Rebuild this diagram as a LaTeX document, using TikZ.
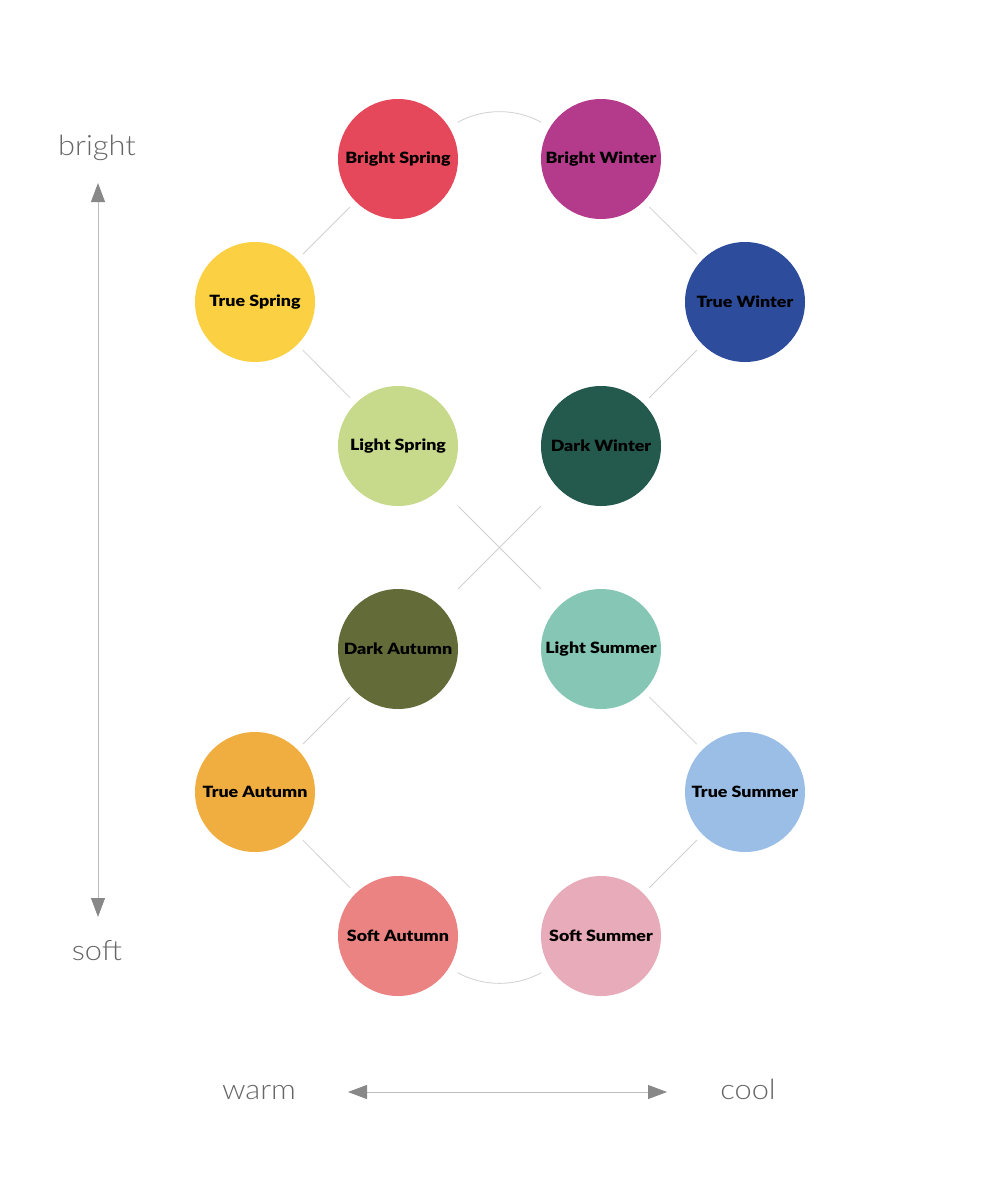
\documentclass[tikz,border=0pt]{standalone}
\usepackage{fontspec}
\setmainfont{Lato}
\newfontfamily\lblfont{Lato Black}[FakeStretch=1.15]
\newfontfamily\axfont{Lato Light}[FakeStretch=1.1]
\usetikzlibrary{arrows.meta}
\definecolor{cBS}{HTML}{E5485A}
\definecolor{cBW}{HTML}{B43A8C}
\definecolor{cTS}{HTML}{FBD042}
\definecolor{cTW}{HTML}{2D4D9C}
\definecolor{cLS}{HTML}{C7D98A}
\definecolor{cDW}{HTML}{24594E}
\definecolor{cDA}{HTML}{636B38}
\definecolor{cLSu}{HTML}{86C6B4}
\definecolor{cTA}{HTML}{EFAE3F}
\definecolor{cTSu}{HTML}{9ABEE5}
\definecolor{cSA}{HTML}{EA8382}
\definecolor{cSS}{HTML}{E8ABBA}
\definecolor{linkgray}{HTML}{D0D0D0}
\definecolor{axisline}{HTML}{BBBBBB}
\definecolor{axishead}{HTML}{888888}
\definecolor{axistext}{HTML}{666666}
\tikzset{
  season/.style={circle, minimum size=120pt, inner sep=0pt, outer sep=0pt,
    font=\lblfont\fontsize{15.5}{18}\selectfont, text=black},
  link/.style={draw=linkgray, line width=0.8pt, shorten <=8pt, shorten >=8pt},
  crosslink/.style={draw=linkgray, line width=0.8pt, shorten <=25pt, shorten >=25pt},
  arclink/.style={draw=linkgray, line width=0.8pt, shorten <=10pt, shorten >=10pt},
  axislabel/.style={font=\axfont\fontsize{28}{32}\selectfont, text=axistext, inner sep=0pt, anchor=base},
  axisarrow/.style={draw=axisline, line width=0.9pt,
    {Triangle[length=19pt,width=14pt,color=axishead]}-{Triangle[length=19pt,width=14pt,color=axishead]}}
}
\begin{document}
\begin{tikzpicture}[x=1pt,y=-1pt]
\useasboundingbox (0,0) rectangle (1000,1200);
\node[season, fill=cBS] (bs) at (398,159) {Bright Spring};
\node[season, fill=cBW] (bw) at (601,159) {Bright Winter};
\node[season, fill=cTS] (ts) at (255,302) {True Spring};
\node[season, fill=cTW] (tw) at (745,302) {True Winter};
\node[season, fill=cLS] (ls) at (398,446) {Light Spring};
\node[season, fill=cDW] (dw) at (601,446) {Dark Winter};
\node[season, fill=cDA] (da) at (398,649) {Dark Autumn};
\node[season, fill=cLSu] (lsu) at (601,649) {Light Summer};
\node[season, fill=cTA] (ta) at (255,792) {True Autumn};
\node[season, fill=cTSu] (tsu) at (745,792) {True Summer};
\node[season, fill=cSA] (sa) at (398,936) {Soft Autumn};
\node[season, fill=cSS] (ss) at (601,936) {Soft Summer};

\draw[link] (bs) -- (ts);
\draw[link] (ts) -- (ls);
\draw[link] (bw) -- (tw);
\draw[link] (tw) -- (dw);
\draw[crosslink] (ls) -- (lsu);
\draw[crosslink] (dw) -- (da);
\draw[link] (da) -- (ta);
\draw[link] (ta) -- (sa);
\draw[link] (lsu) -- (tsu);
\draw[link] (tsu) -- (ss);
\draw[arclink] (bs.32) to[out=29,in=151] (bw.148);
\draw[arclink] (sa.-32) to[out=-29,in=-151] (ss.-148);

\node[axislabel] (bright) at (97,155) {bright};
\node[axislabel] (soft) at (97,960) {soft};
\node[axislabel] (warm) at (259,1099) {warm};
\node[axislabel] (cool) at (748,1099) {cool};
\coordinate (vtop) at (98,183);
\coordinate (vbot) at (98,917);
\coordinate (hleft) at (348,1092);
\coordinate (hright) at (667,1092);
\draw[axisarrow] (vtop) -- (vbot);
\draw[axisarrow] (hleft) -- (hright);
\end{tikzpicture}
\end{document}
